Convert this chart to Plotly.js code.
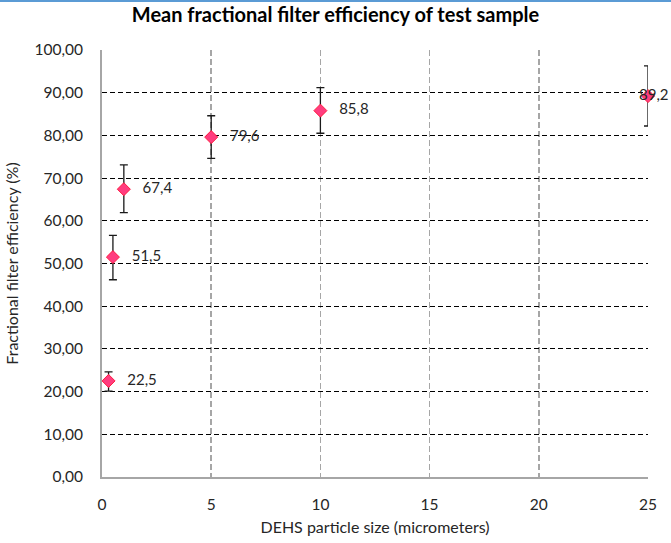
<!DOCTYPE html>
<html>
<head>
<meta charset="utf-8">
<script src="https://cdn.plot.ly/plotly-3.0.1.min.js"></script>
<style>
  html, body { margin: 0; padding: 0; background: #fff; }
  #wrap { position: relative; width: 671px; height: 543px; }
  #topbar { position: absolute; left: 0; top: 0; width: 671px; height: 2px; background: #5b9bd5; z-index: 5; }
  #chart { width: 671px; height: 543px; }
</style>
</head>
<body>
<div id="wrap">
  <div id="topbar"></div>
  <div id="chart"></div>
</div>
<script>
// Data
const particleSize = [0.3, 0.5, 1, 5, 10, 25];           // micrometers
const efficiency   = [22.5, 51.5, 67.4, 79.6, 85.8, 89.2]; // %
const errorPlus    = [2.1, 5.1, 5.7, 5.0, 5.4, 7.1];
const errorMinus   = [2.4, 5.3, 5.5, 5.0, 5.3, 7.0];
const labelPositions = ['middle right', 'middle right', 'middle right', 'middle right', 'middle right', 'middle center'];
const xTicks = [0, 5, 10, 15, 20, 25];
const yTicks = [0, 10, 20, 30, 40, 50, 60, 70, 80, 90, 100];

const labels = efficiency.map(v => v.toFixed(1).replace('.', ','));
const textLabels = labels.map(t => '&nbsp;&nbsp;&nbsp;' + t);

const FONT = 'Lato, "Open Sans", sans-serif';

const trace = {
  type: 'scatter',
  mode: 'markers+text',
  x: particleSize,
  y: efficiency,
  text: textLabels,
  textposition: labelPositions,
  textfont: { family: FONT, size: 15, color: '#262626' },
  cliponaxis: false,
  marker: {
    symbol: 'diamond',
    size: 10,
    color: '#ff3d7f',
    line: { color: '#ff1a40', width: 1 }
  },
  error_y: {
    type: 'data',
    symmetric: false,
    array: errorPlus,
    arrayminus: errorMinus,
    color: '#1a1a1a',
    thickness: 1.3,
    width: 4
  },
  hoverinfo: 'x+y',
  showlegend: false
};

const layout = {
  width: 671,
  height: 543,
  margin: { l: 102, r: 23, t: 50, b: 66 },
  paper_bgcolor: '#ffffff',
  plot_bgcolor: '#ffffff',
  separators: ', ',
  font: { family: FONT, size: 15, color: '#262626' },
  title: {
    text: '<b>Mean fractional filter efficiency of test sample</b>',
    font: { family: FONT, size: 20, color: '#000000' },
    x: 0.5, xanchor: 'center',
    y: 0.972, yanchor: 'middle'
  },
  xaxis: {
    range: [0, 25],
    tickvals: xTicks,
    ticktext: xTicks.map(String),
    showgrid: true,
    gridcolor: '#a6a6a6',
    gridwidth: 1.5,
    griddash: '6px,3px',
    showline: true,
    linecolor: '#a6a6a6',
    linewidth: 2,
    zeroline: false,
    ticks: 'outside',
    ticklen: 12,
    tickcolor: 'rgba(0,0,0,0)',
    tickfont: { family: FONT, size: 15.5, color: '#262626' },
    title: {
      text: 'DEHS particle size (micrometers)',
      font: { family: FONT, size: 16, color: '#262626' },
      standoff: 10
    }
  },
  yaxis: {
    range: [0, 100],
    tickvals: yTicks,
    ticktext: yTicks.map(v => v.toFixed(2).replace('.', ',')),
    showgrid: true,
    gridcolor: '#000000',
    gridwidth: 1,
    griddash: '5px,3px',
    showline: true,
    linecolor: '#a6a6a6',
    linewidth: 2,
    zeroline: false,
    ticks: 'outside',
    ticklen: 14,
    tickcolor: 'rgba(0,0,0,0)',
    tickfont: { family: FONT, size: 15.5, color: '#262626' },
    title: {
      text: 'Fractional filter efficiency (%)',
      font: { family: FONT, size: 16, color: '#262626' },
      standoff: 12
    }
  }
};

Plotly.newPlot('chart', [trace], layout, { displayModeBar: false, staticPlot: true });
</script>
</body>
</html>
